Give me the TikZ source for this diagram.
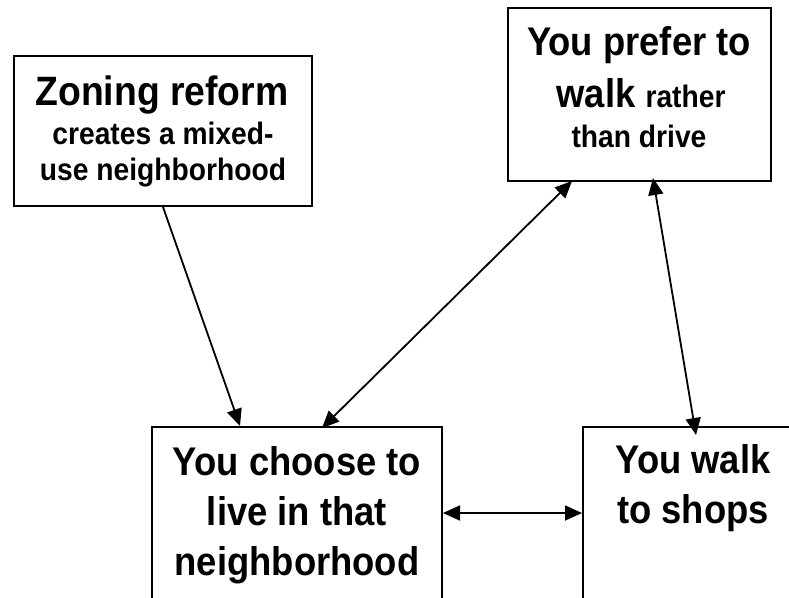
\documentclass[tikz,border=0pt]{standalone}
\usepackage{fontspec}
\setmainfont{Liberation Sans}[BoldFeatures={FakeStretch=0.91}]
\usetikzlibrary{arrows.meta}
\begin{document}
\begin{tikzpicture}[x=1pt,y=-1pt,
  box/.style={draw=black, line width=2pt, inner sep=0pt, fill=white},
  big/.style={anchor=base, inner sep=0pt, font=\fontsize{40}{48}\selectfont\bfseries},
  small/.style={anchor=base, inner sep=0pt, font=\fontsize{31}{36}\selectfont\bfseries},
  conn/.style={line width=1.8pt},
  >={Triangle[length=17pt,width=15pt]}]
\useasboundingbox (0,0) rectangle (789,597);
\clip (0,0) rectangle (789,597);
% boxes
\node[box, minimum width=298pt, minimum height=150pt] (zoning) at (163,131) {};
\node[box, minimum width=263pt, minimum height=173pt] (prefer) at (639.5,94.5) {};
\node[box, minimum width=290pt, minimum height=172pt] (choose) at (297,513) {};
\node[box, minimum width=220pt, minimum height=172pt] (walk) at (693,513) {};
% texts
\node[big, font=\fontsize{41}{48}\selectfont\bfseries] (z1) at (162,105) {Zoning reform};
\node[small] (z2) at (163,144) {creates a mixed-};
\node[small] (z3) at (163,180) {use neighborhood};
\node[big] (p1) at (639,55) {You prefer to};
\node[big] (p2) at (641,107) {walk {\fontsize{31}{36}\selectfont rather}};
\node[small] (p3) at (639,147) {than drive};
\node[big] (c1) at (297,475) {You choose to};
\node[big] (c2) at (297,525) {live in that};
\node[big] (c3) at (297,575) {neighborhood};
\node[big] (w1) at (693,473) {You walk};
\node[big] (w2) at (693,523) {to shops};
% connectors
\draw[conn, ->] (zoning.south) -- ([xshift=-57pt]choose.north);
\draw[conn, <->] ([xshift=25pt,yshift=-2pt]choose.north) -- ([xshift=65pt,yshift=1pt]prefer.south west);
\draw[conn, <->] ([xshift=13.5pt,yshift=4pt]prefer.south) -- ([xshift=3pt,yshift=-9pt]walk.north);
\draw[conn, <->] (choose.east) -- (walk.west);
\end{tikzpicture}
\end{document}
